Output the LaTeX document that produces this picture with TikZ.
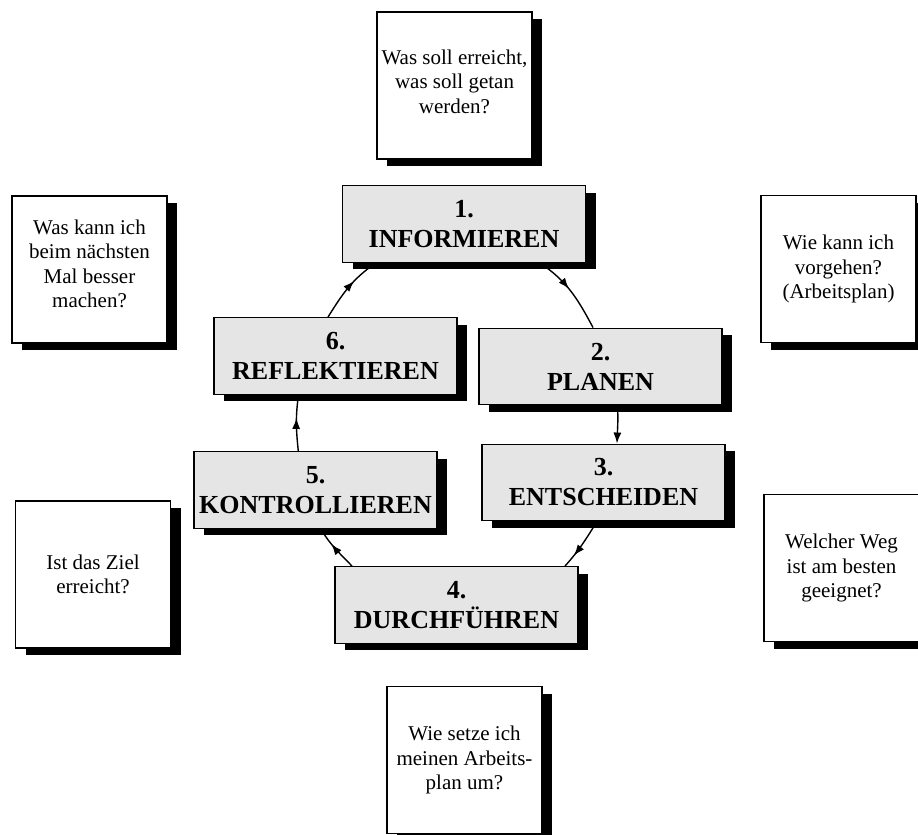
\documentclass[tikz,border=0pt]{standalone}
\usepackage{fontspec}
\setmainfont{Liberation Serif}
\usetikzlibrary{shadows,arrows.meta,decorations.markings,backgrounds}
\definecolor{stepgray}{RGB}{229,229,229}
\begin{document}
\begin{tikzpicture}[x=1pt,y=1pt,
  shadowed/.style={general shadow={fill=black, shadow xshift=10pt, shadow yshift=-7pt}},
  qbox/.style={shadowed, draw=black, line width=1.4pt, fill=white,
    minimum width=155pt, minimum height=147pt, inner sep=0pt, align=center,
    font=\fontsize{21}{24.5}\selectfont},
  stepbox/.style={shadowed, draw=black, line width=1.4pt, fill=stepgray,
    minimum width=243pt, minimum height=76.5pt, inner sep=0pt, align=center,
    font=\fontsize{26}{30}\selectfont\bfseries},
  conn/.style={line width=1.4pt},
  tipat/.style={postaction={decorate}, decoration={markings,
    mark=at position #1 with {\arrow{Latex[length=11pt,width=8pt]}}}},
]
\useasboundingbox (0,0) rectangle (918,-835);

% question boxes
\node[qbox] (q1) at (454.5,-85.5) {Was soll erreicht,\\was soll getan\\werden?\\[-16.5pt]};
\node[qbox] (q6) at (89.5,-269.5) {Was kann ich\\beim nächsten\\Mal besser\\machen?\\[-12.5pt]};
\node[qbox] (q2) at (838.5,-269) {Wie kann ich\\vorgehen?\\(Arbeitsplan)};
\node[qbox] (q5) at (93,-574.5) {Ist das Ziel\\erreicht?};
\node[qbox] (q3) at (841.5,-568) {Welcher Weg\\ist am besten\\geeignet?};
\node[qbox] (q4) at (464.5,-760) {Wie setze ich\\meinen Arbeits-\\plan um?};

% step boxes
\node[stepbox] (b1) at (464,-224) {1.\\INFORMIEREN};
\node[stepbox] (b6) at (335.5,-356) {6.\\REFLEKTIEREN};
\node[stepbox] (b2) at (600.5,-366.5) {2.\\PLANEN};
\node[stepbox] (b3) at (603.5,-482.5) {3.\\ENTSCHEIDEN};
\node[stepbox] (b5) at (315.5,-490) {5.\\KONTROLLIEREN};
\node[stepbox] (b4) at (456.5,-605) {4.\\DURCHFÜHREN};

\begin{pgfonlayer}{background}
\fill[white] (0,0) rectangle (918,-835);
\draw[conn, tipat=0.61] ([xshift=-7.5pt]b6.north) to[out=58,in=214] ([xshift=-88pt]b1.south);
\draw[conn, tipat=0.46] ([xshift=76pt]b1.south) to[out=-34,in=118] ([xshift=-7.5pt]b2.north);
\draw[conn, -{Latex[length=11pt,width=8pt]}] ([xshift=17pt]b2.south) to[out=-87,in=88] ([xshift=13.5pt]b3.north);
\draw[conn, tipat=0.75] ([xshift=-6.5pt]b3.south) to[out=-122,in=48] ([xshift=108.5pt]b4.north);
\draw[conn, tipat=0.62] ([xshift=-104.5pt]b4.north) to[out=134,in=-59] ([xshift=5.3pt]b5.south);
\draw[conn, tipat=0.59] ([xshift=-17.2pt]b5.north) to[out=96,in=-98] ([xshift=-37pt]b6.south);
\end{pgfonlayer}
\end{tikzpicture}
\end{document}
